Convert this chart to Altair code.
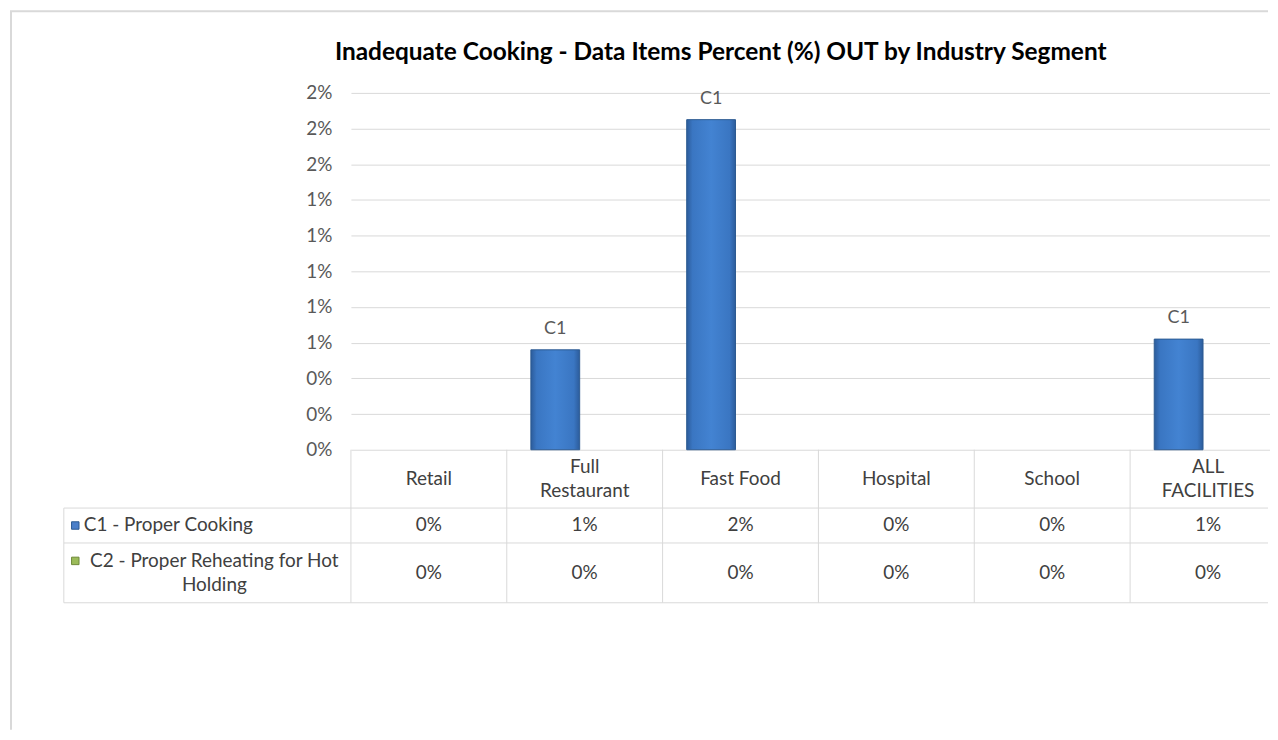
import altair as alt
import pandas as pd

# ---------------- data ----------------
title_text = "Inadequate Cooking - Data Items Percent (%) OUT by Industry Segment"
categories = ["Retail", "Full Restaurant", "Fast Food", "Hospital", "School", "ALL FACILITIES"]
header_labels = ["Retail", "Full\nRestaurant", "Fast Food", "Hospital", "School", "ALL\nFACILITIES"]
series_keys = ["C1", "C2"]
series_labels = ["C1 - Proper Cooking", "C2 - Proper Reheating for Hot\nHolding"]
c1_values = [0.0, 0.0056, 0.0185, 0.0, 0.0, 0.0062]
c2_values = [0.0, 0.0, 0.0, 0.0, 0.0, 0.0]
y_tick_values = [0.0, 0.002, 0.004, 0.006, 0.008, 0.010, 0.012, 0.014, 0.016, 0.018, 0.020]

# ---------------- layout / style ----------------
FONT = "Lato"
PLOT_W, PLOT_H = 920, 358          # visible plot width (page would be cropped at the right)
BAND_RANGE = 938                   # six equal columns, the last one runs past the window
HEADER_H, ROW1_H, ROW2_H = 58.5, 35.0, 60.0
TABLE_H = HEADER_H + ROW1_H + ROW2_H
LABEL_COL_W = 288
LINE_H = 24
GRID = "#d9d9d9"
TXT = "#404040"
AXT = "#595959"
series_colors = ["#4a7fc9", "#9bbb59"]
series_strokes = ["#2c5a92", "#6f8a3a"]

row_centers = {"C1": HEADER_H + ROW1_H / 2, "C2": HEADER_H + ROW1_H + ROW2_H / 2}

long_rows = []
for key, vals in zip(series_keys, [c1_values, c2_values]):
    for cat, v in zip(categories, vals):
        long_rows.append({"category": cat, "key": key, "value": v, "ty": row_centers[key]})
long_df = pd.DataFrame(long_rows)

xscale = alt.Scale(domain=categories, range=[0, BAND_RANGE], paddingInner=0, paddingOuter=0)
x_enc = alt.X("category:N", scale=xscale, axis=None)
xoff_enc = alt.XOffset("key:N", scale=alt.Scale(domain=series_keys, paddingInner=0.17, paddingOuter=0.41))
y_enc = alt.Y(
    "value:Q",
    scale=alt.Scale(domain=[0, 0.02], nice=False, zero=True),
    axis=alt.Axis(
        values=y_tick_values, format=".0%", grid=True, gridColor=GRID, gridWidth=1,
        domain=False, ticks=False, tickSize=0, labelPadding=19,
        labelFontSize=19, labelColor=AXT, labelFont=FONT,
    ),
    title=None,
)

bar_gradient = {
    "gradient": "linear", "x1": 0, "x2": 1, "y1": 0, "y2": 0,
    "stops": [
        {"offset": 0, "color": "#2c5c9b"},
        {"offset": 0.12, "color": "#3a76c2"},
        {"offset": 0.5, "color": "#4383d2"},
        {"offset": 0.88, "color": "#3a76c2"},
        {"offset": 1, "color": "#2c5c9b"},
    ],
}

bars = (
    alt.Chart(long_df)
    .transform_filter("datum.value > 0")
    .mark_bar(color=bar_gradient, stroke="#2c5a92", strokeWidth=1)
    .encode(x=x_enc, xOffset=xoff_enc, y=y_enc)
)
bar_labels = (
    alt.Chart(long_df)
    .transform_filter("datum.value > 0")
    .mark_text(dy=-16, baseline="alphabetic", fontSize=18, color=AXT, font=FONT)
    .encode(x=x_enc, xOffset=xoff_enc, y=y_enc, text="key:N")
)

top = alt.layer(bars, bar_labels).properties(
    width=PLOT_W,
    height=PLOT_H,
    title=alt.TitleParams(
        text=title_text, font=FONT, fontSize=24.5, fontWeight="bold", color="#000000",
        anchor="middle", frame="group", dx=-89, dy=4, offset=3, baseline="alphabetic",
    ),
)

# ---------------- data table ----------------
ty_scale = alt.Scale(domain=[0, TABLE_H], reverse=True, nice=False, zero=False)


def first_line_y(center, label):
    n = label.count("\n") + 1
    return center - (n - 1) * LINE_H / 2


header_df = pd.DataFrame({
    "category": categories,
    "label": header_labels,
    "ty": [first_line_y(HEADER_H / 2, s) for s in header_labels],
})
header_text = alt.Chart(header_df).mark_text(
    lineBreak="\n", baseline="middle", align="center", fontSize=19, color=TXT, font=FONT, lineHeight=LINE_H
).encode(x=x_enc, y=alt.Y("ty:Q", scale=ty_scale, axis=None), text="label:N")

value_text = alt.Chart(long_df).mark_text(
    baseline="middle", align="center", fontSize=19, color=TXT, font=FONT
).encode(x=x_enc, y=alt.Y("ty:Q", scale=ty_scale, axis=None), text=alt.Text("value:Q", format=".0%"))

vline_df = pd.DataFrame({"category": categories, "t0": 0.0, "t1": TABLE_H})
vlines = alt.Chart(vline_df).mark_rule(color=GRID, strokeWidth=1).encode(
    x=alt.X("category:N", scale=xscale, axis=None, bandPosition=0),
    y=alt.Y("t0:Q", scale=ty_scale, axis=None), y2="t1:Q",
)

hline_df = pd.DataFrame({"ty": [HEADER_H, HEADER_H + ROW1_H, TABLE_H]})
hlines = alt.Chart(hline_df).mark_rule(color=GRID, strokeWidth=1).encode(
    y=alt.Y("ty:Q", scale=ty_scale, axis=None), x=alt.value(-LABEL_COL_W), x2=alt.value(PLOT_W)
)
left_df = pd.DataFrame({"t0": [HEADER_H], "t1": [TABLE_H]})
left_border = alt.Chart(left_df).mark_rule(color=GRID, strokeWidth=1).encode(
    y=alt.Y("t0:Q", scale=ty_scale, axis=None), y2="t1:Q", x=alt.value(-LABEL_COL_W)
)

lab_df = pd.DataFrame({
    "key": series_keys,
    "label": series_labels,
    "ty": [first_line_y(row_centers[k], s) for k, s in zip(series_keys, series_labels)],
})
lab1 = alt.Chart(lab_df).transform_filter("datum.key == 'C1'").mark_text(
    align="left", baseline="middle", fontSize=19, color=TXT, font=FONT
).encode(x=alt.value(-268), y=alt.Y("ty:Q", scale=ty_scale, axis=None), text="label:N")
lab2 = alt.Chart(lab_df).transform_filter("datum.key == 'C2'").mark_text(
    align="center", baseline="middle", fontSize=19, color=TXT, font=FONT, lineBreak="\n", lineHeight=LINE_H
).encode(x=alt.value(-137), y=alt.Y("ty:Q", scale=ty_scale, axis=None), text="label:N")
keys = alt.Chart(lab_df).mark_square(size=56, filled=True, strokeWidth=1, opacity=1).encode(
    x=alt.value(-276.5),
    y=alt.Y("ty:Q", scale=ty_scale, axis=None),
    color=alt.Color("key:N", scale=alt.Scale(domain=series_keys, range=series_colors), legend=None),
    stroke=alt.Stroke("key:N", scale=alt.Scale(domain=series_keys, range=series_strokes), legend=None),
)

# outer chart-area frame
frame_df = pd.DataFrame({"k": [0]})
frame_left = alt.Chart(frame_df).mark_rule(color=GRID, strokeWidth=2).encode(
    x=alt.value(-341), y=alt.value(-440), y2=alt.value(281)
)
frame_top = alt.Chart(frame_df).mark_rule(color=GRID, strokeWidth=2).encode(
    x=alt.value(-342), x2=alt.value(PLOT_W), y=alt.value(-440)
)

bottom = alt.layer(
    vlines, hlines, left_border, header_text, value_text, lab1, lab2, keys,
    frame_left, frame_top,
).properties(width=PLOT_W, height=TABLE_H)

chart = (
    alt.vconcat(top, bottom, spacing=0, bounds="flush")
    .properties(padding=0, background="white")
    .configure_view(stroke="transparent")
)

chart.save("out.html", embed_options={"renderer": "svg", "actions": False})
